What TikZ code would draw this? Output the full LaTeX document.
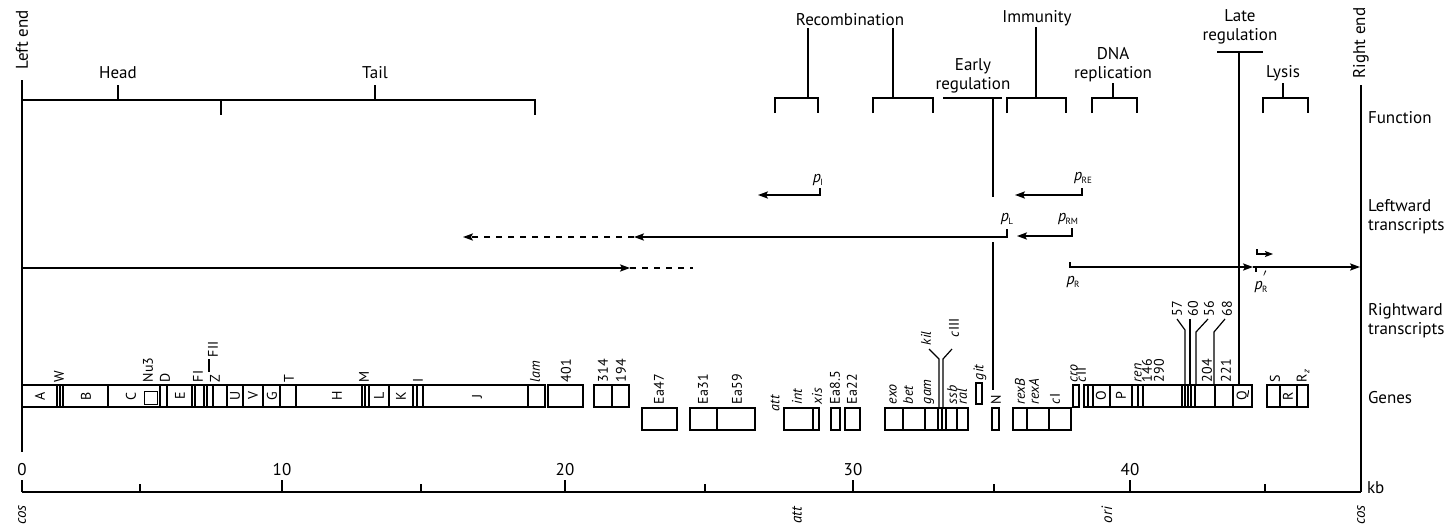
\documentclass[tikz,border=0pt]{standalone}
\usepackage{fontspec}
\setmainfont{PT Sans}
\usetikzlibrary{arrows.meta}
\newcommand{\prom}[1]{\textit{p}\kern-0.3pt\raisebox{-0.45ex}{\fontsize{4.5}{5}\selectfont #1}}
\newcommand{\promp}[1]{\textit{p}\rlap{\raisebox{0.9ex}{\fontsize{6}{6}\selectfont$'$}}\kern-0.3pt\raisebox{-0.45ex}{\fontsize{4.5}{5}\selectfont #1}}
\begin{document}
\begin{tikzpicture}[x=0.5pt,y=-0.5pt,line width=0.6pt,
  every node/.style={inner sep=0pt, outer sep=0pt},
  fn/.style={font=\fontsize{8.5}{9.5}\selectfont, align=center},
  rl/.style={font=\fontsize{8.5}{9.5}\selectfont, align=left, anchor=west},
  gl/.style={font=\fontsize{7}{7.5}\selectfont, rotate=90, anchor=west},
  gi/.style={font=\fontsize{7}{7.5}\selectfont, rotate=90},
  sc/.style={font=\fontsize{7.5}{8}\selectfont\itshape, rotate=90},
  pl/.style={font=\fontsize{8}{9}\selectfont},
  tip/.style={-{Stealth[length=5pt,width=3.6pt,inset=1pt]}},
  bar/.style={line width=0.9pt},
]
\useasboundingbox (0,0) rectangle (1448,531);

% ---------- ends and main verticals
\node[fn,rotate=90] (lend) at (22,40) {Left end};
\node[fn,rotate=90] (rend) at (1361,43) {Right end};
\coordinate (ltop) at (22,80);
\coordinate (lbot) at (22,452);
\coordinate (rtop) at (1361,85);
\coordinate (rbot) at (1361,492);
\draw[bar] (ltop) -- (lbot);
\draw[bar] (rtop) -- (rbot);

% ---------- row labels
\node[rl] (fun) at (1368,118) {Function};
\node[rl] (lt) at (1368,217) {Leftward\\transcripts};
\node[rl] (rt) at (1368,321) {Rightward\\transcripts};
\node[rl] (gen) at (1368,398) {Genes};

% ---------- function brackets
\node[fn] (head) at (118,73) {Head};
\node[fn] (tail) at (375,73) {Tail};
\draw (22,100) -- (535,100) -- (535,115);
\draw (head.south) ++(0,6) -- (118,100);
\draw (221,100) -- (221,115);
\draw (tail.south) ++(0,6) -- (375,100);

\node[fn] (rec) at (850,20) {Recombination};
\draw (775,113) -- (775,98) -- (818,98) -- (818,113);
\draw (808,28) -- (808,98);
\draw (873,113) -- (873,98) -- (933,98) -- (933,113);
\draw (893,28) -- (893,98);

\node[fn] (early) at (973,76) {Early\\regulation};
\draw (943,98) -- (1002,98);
\draw (993,98) -- (993,197);
\draw (993,242) -- (993,390);

\node[fn] (imm) at (1037,18) {Immunity};
\draw (1007,113) -- (1007,98) -- (1066,98) -- (1066,113);
\draw (1036,27) -- (1036,98);

\node[fn] (dna) at (1113,65) {DNA\\replication};
\draw (1092,113) -- (1092,98) -- (1137,98) -- (1137,113);
\draw (1113,83) -- (1113,98);

\node[fn] (late) at (1240,27) {Late\\regulation};
\draw (1217,52) -- (1263,52);
\draw (1239,52) -- (1239,385);

\node[fn] (lys) at (1283,73) {Lysis};
\draw (1263,113) -- (1263,98) -- (1308,98) -- (1308,113);
\draw (1283,83) -- (1283,98);

% ---------- transcripts
\node[pl] (pI) at (818,180) {\prom{I}};
\draw[tip] (820,188) -- (820,195) -- (758,195);
\node[pl] (pRE) at (1083,178) {\prom{RE}};
\draw[tip] (1082,188) -- (1082,195) -- (1015,195);
\node[pl] (pRM) at (1068,219) {\prom{RM}};
\draw[tip] (1072,228) -- (1072,236) -- (1017,236);
\node[pl] (pL) at (1007,219) {\prom{L}};
\draw[tip] (1007,229) -- (1007,237) -- (634,237);
\draw[tip,dashed] (634,237) -- (463,237);
\draw[tip] (22,268) -- (630,268);
\draw[dashed] (630,268) -- (693,268);
\node[pl] (pR) at (1073,282) {\prom{R}};
\draw[tip] (1070,262) -- (1070,267) -- (1253,267);
\draw[tip] (1253,267) -- (1360,267);
\node[pl] (pR2) at (1261,282) {\promp{R}};
\draw (1256,267) -- (1256,272);
\draw[-{Stealth[length=4pt,width=3pt,inset=0.8pt]}] (1257,249) -- (1257,254) -- (1273,254);

% ---------- genes, left strip
\draw (22,385) rectangle (545,407);
\foreach \x in {57,60,63,108,160,167,192,195,204,207,213,227,243,263,280,296,362,365,369,389,413,417,423,528}
  \draw (\x,385) -- (\x,407);
\draw[line width=0.5pt] (144,391) rectangle (157,404);
\node[gi] (gA) at (40,396) {A};
\node[gi] (gB) at (86,396) {B};
\node[gi] (gC) at (131,396) {C};
\node[gi] (gE) at (180,396) {E};
\node[gi] (gU) at (235,396) {U};
\node[gi] (gV) at (253,396) {V};
\node[gi] (gG) at (272,396) {G};
\node[gi] (gH) at (337,396) {H};
\node[gi] (gL) at (379,396) {L};
\node[gi] (gK) at (401,396) {K};
\node[gi] (gJ) at (477,396) {J};
\node[gl] (gW) at (59,382) {W};
\node[gl] (gNu) at (148,382) {Nu3};
\node[gl] (gD) at (165,382) {D};
\node[gl] (gFI) at (198,382) {FI};
\node[gl] (gZ) at (215,382) {Z};
\node[gl] (gFII) at (213,357) {FII};
\draw (209,359) -- (209,372);
\node[gl] (gT) at (289,382) {T};
\node[gl] (gM) at (364,382) {M};
\node[gl] (gI) at (418,382) {I};
\node[gl] (glam) at (535,382) {\textit{lam}};
\draw (548,385) rectangle (583,407);
\node[gl] (g401) at (566,382) {401};
\draw (594,385) rectangle (629,407);
\draw (612,385) -- (612,407);
\node[gl] (g314) at (603,382) {314};
\node[gl] (g194) at (621,382) {194};

% ---------- genes, lower row
\foreach \a/\b in {642/677,690/755,784/819,831/840,845/860,885/968,992/999,1013/1071}
  \draw (\a,408) rectangle (\b,430);
\foreach \x in {717,813,903,925,938,942,946,957,1027,1049}
  \draw (\x,408) -- (\x,430);
\node[gl] (gEa47) at (659,404) {Ea47};
\node[gl] (gEa31) at (703,404) {Ea31};
\node[gl] (gEa59) at (737,404) {Ea59};
\node[gl] (gatt) at (775,411) {\textit{att}};
\node[gl] (gint) at (797,404) {\textit{int}};
\node[gl] (gxis) at (817,404) {\textit{xis}};
\node[gl] (gEa85) at (835,404) {Ea8.5};
\node[gl] (gEa22) at (852,404) {Ea22};
\node[gl] (gexo) at (893,404) {\textit{exo}};
\node[gl] (gbet) at (908,404) {\textit{bet}};
\node[gl] (ggam) at (929,404) {\textit{gam}};
\node[gl] (gkil) at (926,345) {\textit{kil}};
\draw (929,349) -- (939,359) -- (939,408);
\node[gl] (gcIII) at (954,337) {\textit{c}III};
\draw (952,349) -- (943,359) -- (943,408);
\node[gl] (gssb) at (952,404) {\textit{ssb}};
\node[gl] (gral) at (962,404) {\textit{ral}};
\draw (976,383) rectangle (982,404);
\node[gl] (ggit) at (980,380) {\textit{git}};
\node[gl] (gN) at (996,404) {N};
\node[gl] (grexB) at (1020,404) {\textit{rexB}};
\node[gl] (grexA) at (1034,404) {\textit{rexA}};
\node[gl] (gcI) at (1055,404) {\textit{c}I};

% ---------- genes, right strip
\draw (1073,385) rectangle (1079,407);
\draw (1084,385) rectangle (1252,407);
\foreach \x in {1088,1093,1110,1132,1138,1143,1182,1185,1188,1191,1195,1215,1233}
  \draw (\x,385) -- (\x,407);
\node[gi] (gO) at (1101,396) {O};
\node[gi] (gP) at (1121,396) {P};
\node[gi] (gQ) at (1243,396) {Q};
\node[gl] (gcro) at (1074,382) {\textit{cro}};
\node[gl] (gcII) at (1081,382) {\textit{c}II};
\node[gl] (gren) at (1138,382) {\textit{ren}};
\node[gl] (g146) at (1147,382) {146};
\node[gl] (g290) at (1159,382) {290};
\node[gl] (g204) at (1207,382) {204};
\node[gl] (g221) at (1226,382) {221};
\node[gl] (g57) at (1177,316) {57};
\node[gl] (g60) at (1193,316) {60};
\node[gl] (g56) at (1209,316) {56};
\node[gl] (g68) at (1227,316) {68};
\draw (1177,319) -- (1185,330) -- (1185,385);
\draw (1190,319) -- (1190,385);
\draw (1208,319) -- (1196,332) -- (1196,385);
\draw (1225,319) -- (1214,332) -- (1214,385);
\draw (1267,385) rectangle (1308,407);
\draw (1280,385) -- (1280,407);
\draw (1297,385) -- (1297,407);
\node[gi] (gR) at (1288,396) {R};
\node[gl] (gS) at (1275,382) {S};
\node[gl] (gRz) at (1303,382) {R\raisebox{-0.4ex}{\fontsize{4.5}{5}\selectfont\textit{z}}};

% ---------- scale
\draw[line width=1.1pt] (22,492) -- (1361,492);
\foreach \x in {22,282,565,853,1130}
  \draw (\x,492) -- (\x,480);
\foreach \x in {140,421,705,994,1265}
  \draw (\x,492) -- (\x,484);
\node[fn] (k0) at (22,470) {0};
\node[fn] (k10) at (282,470) {10};
\node[fn] (k20) at (565,470) {20};
\node[fn] (k30) at (853,470) {30};
\node[fn] (k40) at (1130,470) {40};
\node[fn,anchor=west] (kb) at (1367,488) {kb};
\node[sc] (cosL) at (22,515) {cos};
\node[sc] (att2) at (797,515) {att};
\node[sc] (ori) at (1107,515) {ori};
\node[sc] (cosR) at (1361,515) {cos};
\end{tikzpicture}
\end{document}
